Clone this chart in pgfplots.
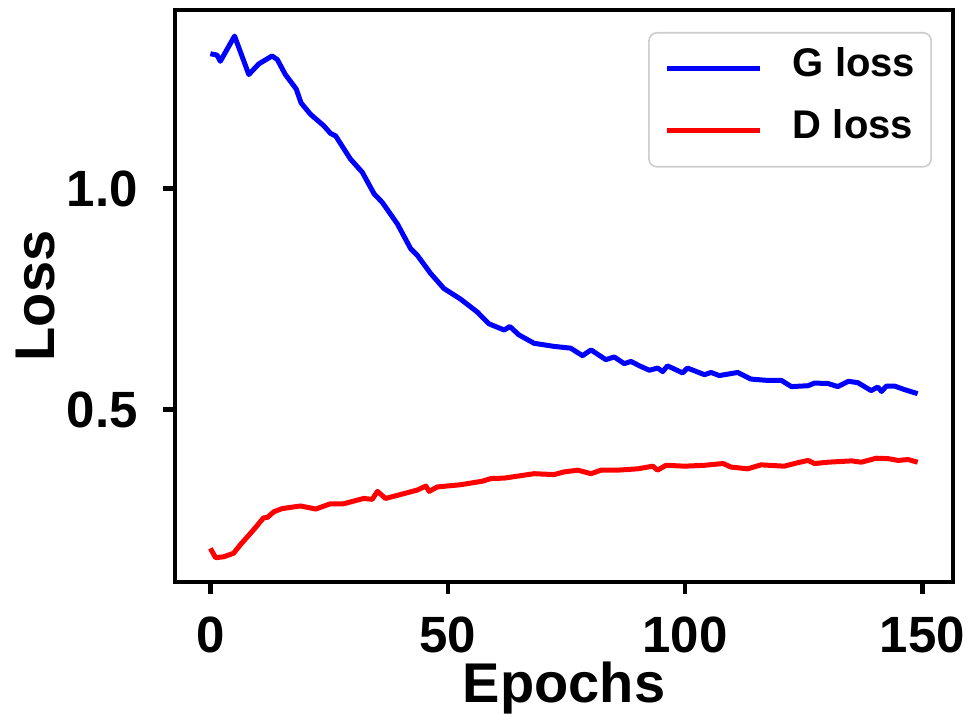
\documentclass[border=0pt]{standalone}
\usepackage{fontspec}
\setmainfont{Liberation Sans}
\usepackage{pgfplots}
\pgfplotsset{compat=1.18}
\begin{document}
\begin{tikzpicture}
\begin{axis}[
  at={(0,0)}, anchor=south west,
  scale only axis, width=389pt, height=286pt,
  xmin=-7.45, xmax=156.45, ymin=0.11, ymax=1.404,
  axis line style={line width=2.2pt},
  xtick={0,50,100,150}, xticklabels={0,50,100,150},
  ytick={0.5,1.0}, yticklabels={0.5,1.0},
  /pgf/number format/assume math mode=true,
  tick style={line width=2.2pt, black},
  major tick length=6pt, tick align=outside,
  xtick pos=bottom, ytick pos=left,
  tick label style={font=\fontsize{25.5}{30}\selectfont\bfseries},
  xticklabel style={anchor=base, inner sep=0pt, yshift=-29.5pt},
  yticklabel style={anchor=east, inner sep=0pt, xshift=-12.5pt},
  xlabel={Epochs}, ylabel={Loss},
  label style={font=\fontsize{28}{33}\selectfont\bfseries},
  xlabel style={at={([yshift=-60.5pt]axis description cs:0.5,0)}, anchor=base, inner sep=0pt},
  ylabel style={at={([xshift=-60pt]axis description cs:0,0.5)}, anchor=base, rotate=0, inner sep=0pt},
  legend cell align=left,
  legend image code/.code={\draw[#1] (0pt,0pt) -- (46.5pt,0pt);},
  legend style={at={([xshift=-10.5pt,yshift=-11pt]axis description cs:1,1)}, anchor=north east,
    draw=black!20, line width=0.8pt, rounded corners=4pt,
    font=\fontsize{20}{24}\selectfont\bfseries,
    inner xsep=8pt, inner ysep=8pt, row sep=11pt,
    nodes={inner sep=0pt, text height=14pt, text depth=6pt},
    /tikz/every odd column/.append style={column sep=15pt}},
]
\addplot[blue, line width=2.5pt, line join=round] coordinates {
(0,1.305) (1.4,1.302) (2.1,1.288) (5.1,1.345) (8.1,1.258) (10.2,1.282) (13,1.300) (14.1,1.292)
(15.8,1.258) (18.1,1.225) (19.1,1.194) (21.1,1.168) (23.9,1.142) (25.3,1.125) (26.4,1.119)
(29.5,1.067) (32,1.037) (34.5,0.988) (36.2,0.969) (39.4,0.920) (42.2,0.864) (43.6,0.849)
(46.4,0.808) (49.2,0.774) (52.7,0.750) (56.2,0.721) (58.7,0.694) (61.9,0.680) (63.1,0.688)
(65,0.669) (68.2,0.650) (72.4,0.643) (75.9,0.639) (78.4,0.622) (80.2,0.635) (83.3,0.613)
(85.1,0.619) (87.2,0.604) (88.6,0.609) (90.4,0.599) (92.5,0.589) (94.2,0.594) (95.3,0.586)
(96.3,0.599) (99.5,0.583) (100.5,0.594) (104.1,0.579) (105.5,0.584) (107.2,0.577) (111.1,0.584)
(113.9,0.569) (117.4,0.566) (120.3,0.566) (122.4,0.552) (125.9,0.554) (127.3,0.560) (130.1,0.559)
(132.2,0.552) (134.4,0.564) (136.4,0.561) (139.2,0.543) (140.6,0.551) (141.4,0.541) (142.4,0.553)
(144.2,0.553) (146.3,0.545) (149,0.536)
};
\addlegendentry{G loss}
\addplot[red, line width=2.5pt, line join=round] coordinates {
(0,0.186) (1.1,0.165) (2.8,0.167) (4.9,0.175) (6.3,0.194) (9.1,0.228) (11.2,0.255) (12,0.256)
(13.4,0.269) (15.1,0.276) (19,0.282) (22.2,0.275) (25.3,0.287) (28.1,0.287) (32.3,0.299)
(34.1,0.297) (35.2,0.315) (36.9,0.299) (40.8,0.310) (43.6,0.318) (45.4,0.327) (46.1,0.315)
(47.8,0.325) (52.7,0.330) (57.3,0.338) (59.1,0.344) (61.9,0.345) (68.2,0.355) (72.4,0.353)
(74.5,0.359) (77.4,0.363) (80.2,0.355) (82.3,0.363) (85.8,0.363) (90,0.366) (93.2,0.372)
(94.2,0.363) (96,0.374) (99.9,0.372) (104.1,0.374) (108,0.378) (109.7,0.370) (113.2,0.366)
(116,0.375) (120.9,0.372) (123.8,0.380) (125.9,0.385) (127.3,0.378) (130.1,0.381) (135.1,0.384)
(137.1,0.381) (140.3,0.390) (142.8,0.389) (144.9,0.385) (147,0.387) (149,0.381)
};
\addlegendentry{D loss}
\end{axis}
\pgfresetboundingbox
\useasboundingbox (-87.5pt,-72.5pt) rectangle (398pt,291pt);
\end{tikzpicture}
\end{document}
